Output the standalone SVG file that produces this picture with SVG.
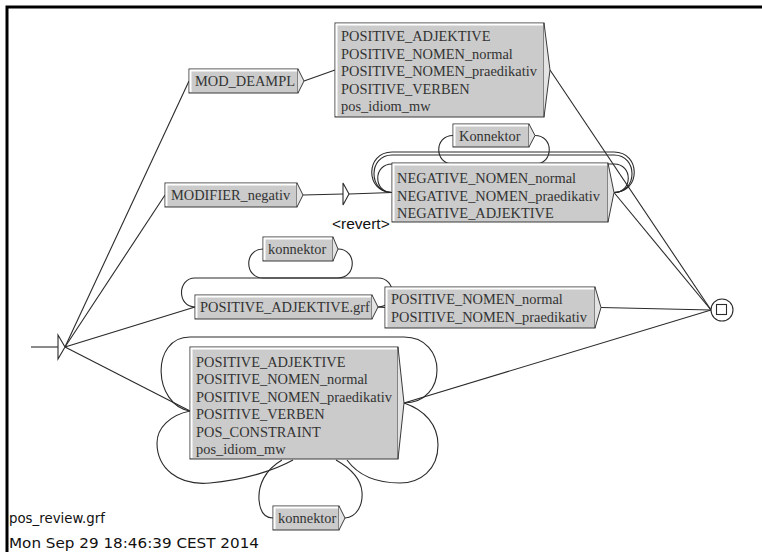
<svg xmlns="http://www.w3.org/2000/svg" width="762" height="552" viewBox="0 0 762 552">
<style>
  .bg{fill:#fff}
  .frame{fill:none;stroke:#000;stroke-width:3}
  .tr{fill:none;stroke:#2a2a2a;stroke-width:1.1}
  .box{fill:#cbcbcb;stroke:#3a3a3a;stroke-width:1}
  .hl{fill:none;stroke:#fff;stroke-width:2}
  .arr{fill:#e4e4e4;stroke:#3a3a3a;stroke-width:1}
  .lbl{font-family:"Liberation Serif","Times New Roman",serif;font-size:14.4px;fill:#333}
  .out{font-family:"Liberation Sans",Arial,sans-serif;font-size:15.5px;fill:#111}
  .info{font-family:"DejaVu Sans",sans-serif;font-size:14px;fill:#111}
  .st{fill:#fff;stroke:#2a2a2a;stroke-width:1.1}
</style>
<rect class="bg" x="0" y="0" width="762" height="552"/>
<path class="frame" d="M7,552 V7 H762"/>

<!-- transitions -->
<g id="connectors">
  <path class="tr" d="M31,347 H58"/>
  <path class="tr" d="M65,347 L189,81"/>
  <path class="tr" d="M65,347 L165,195"/>
  <path class="tr" d="M65,347 L195,307"/>
  <path class="tr" d="M65,347 L190,411"/>
  <path class="tr" d="M304,81 L335,70"/>
  <path class="tr" d="M550,70 L711,310"/>
  <path class="tr" d="M303,195 L343,194"/>
  <path class="tr" d="M349,194 L392,192.5"/>
  <path class="tr" d="M614,192.5 L711,310"/>
  <path class="tr" d="M378,307 L385,307.5"/>
  <path class="tr" d="M601,307.5 L711,310"/>
  <path class="tr" d="M404,403 L711,310"/>
  <!-- loops around the negative box -->
  <path class="tr" d="M614,192.5 C641,192.5 641,152 614,152 L392,152 C365,152 365,192.5 392,192.5"/>
  <path class="tr" d="M614,192.5 C638,192.5 638,155 614,155 L392,155 C368,155 368,192.5 392,192.5"/>
  <path class="tr" d="M614,192.5 C633,192.5 633,164 614,164 L453,164 C434,164 434,135.5 453,135.5"/>
  <path class="tr" d="M535,135.5 C554,135.5 554,164 535,164 L392,164 C373,164 373,192.5 392,192.5"/>
  <!-- loops around POSITIVE_ADJEKTIVE.grf -->
  <path class="tr" d="M378,307 C397,307 397,278 378,278 L263,278 C244,278 244,249 263,249"/>
  <path class="tr" d="M338,249 C357,249 357,278 338,278 L195,278 C177,278 177,307 195,307"/>
  <!-- loops around the six-line box -->
  <path class="tr" d="M404,403 C448,403 448,337 404,337 L190,337 C150,337 153,405 190,411"/>
  <path class="tr" d="M404,403 C425,410 438,425 438,445 C438,470 420,483 400,483 C380,483 360,478 347,460"/>
  <path class="tr" d="M293,460 C275,470 245,480 210,483 C178,486 157,468 157,443 C157,428 170,415 190,411"/>
  <path class="tr" d="M282,460 C265,470 258,485 259,500 C260,512 265,518 273,518"/>
  <path class="tr" d="M345,518 C357,517 363,505 362,492 C361,478 350,468 336,460"/>
</g>

<g id="init">
  <polygon class="st" points="58,335 65,347 58,359"/>
</g>

<g id="final">
  <circle class="st" cx="722" cy="310" r="11"/>
  <rect x="716.5" y="304.5" width="10" height="10" fill="#fff" stroke="#2a2a2a" stroke-width="1.1"/>
</g>

<g id="mod_deampl">
  <rect class="box" x="189" y="69" width="109" height="24"/>
  <path class="hl" d="M190.5,92 V70.5 H297"/>
  <polyline class="arr" points="298,69 304,81 298,93"/>
  <text class="lbl" x="195" y="86">MOD_DEAMPL</text>
</g>

<g id="positive_top">
  <rect class="box" x="335" y="23" width="209" height="94"/>
  <path class="hl" d="M336.5,116 V24.5 H543"/>
  <polyline class="arr" points="544,23 550,70 544,117"/>
  <text class="lbl" x="341"><tspan x="341" y="41">POSITIVE_ADJEKTIVE</tspan><tspan x="341" y="58.5">POSITIVE_NOMEN_normal</tspan><tspan x="341" y="76">POSITIVE_NOMEN_praedikativ</tspan><tspan x="341" y="93.5">POSITIVE_VERBEN</tspan><tspan x="341" y="111">pos_idiom_mw</tspan></text>
</g>

<g id="modifier_negativ">
  <rect class="box" x="165" y="183" width="132" height="24"/>
  <path class="hl" d="M166.5,206 V184.5 H296"/>
  <polyline class="arr" points="297,183 303,195 297,207"/>
  <text class="lbl" x="171" y="200">MODIFIER_negativ</text>
</g>

<g id="revert">
  <polygon class="st" points="343,183 349,194 343,205"/>
  <text class="out" x="332" y="229">&lt;revert&gt;</text>
</g>

<g id="konnektor_neg">
  <rect class="box" x="453" y="124" width="76" height="23"/>
  <path class="hl" d="M454.5,146 V125.5 H528"/>
  <polyline class="arr" points="529,124 535,135.5 529,147"/>
  <text class="lbl" x="459" y="140.5">Konnektor</text>
</g>

<g id="negative">
  <rect class="box" x="392" y="163" width="216" height="59"/>
  <path class="hl" d="M393.5,221 V164.5 H607"/>
  <polyline class="arr" points="608,163 614,192.5 608,222"/>
  <text class="lbl"><tspan x="397" y="183">NEGATIVE_NOMEN_normal</tspan><tspan x="397" y="200.5">NEGATIVE_NOMEN_praedikativ</tspan><tspan x="397" y="218">NEGATIVE_ADJEKTIVE</tspan></text>
</g>

<g id="konnektor_grf">
  <rect class="box" x="263" y="237" width="70" height="24"/>
  <path class="hl" d="M264.5,260 V238.5 H332"/>
  <polyline class="arr" points="333,237 338,249 333,261"/>
  <text class="lbl" x="268" y="254">konnektor</text>
</g>

<g id="positive_grf">
  <rect class="box" x="195" y="295" width="177" height="24"/>
  <path class="hl" d="M196.5,318 V296.5 H371"/>
  <polyline class="arr" points="372,295 378,307 372,319"/>
  <text class="lbl" x="200" y="312">POSITIVE_ADJEKTIVE.grf</text>
</g>

<g id="positive_nomen">
  <rect class="box" x="385" y="287" width="210" height="41"/>
  <path class="hl" d="M386.5,327 V288.5 H594"/>
  <polyline class="arr" points="595,287 601,307.5 595,328"/>
  <text class="lbl"><tspan x="391" y="304">POSITIVE_NOMEN_normal</tspan><tspan x="391" y="321.5">POSITIVE_NOMEN_praedikativ</tspan></text>
</g>

<g id="positive_all">
  <rect class="box" x="190" y="347" width="208" height="112"/>
  <path class="hl" d="M191.5,458 V348.5 H397"/>
  <polyline class="arr" points="398,347 404,403 398,459"/>
  <text class="lbl"><tspan x="196" y="366.5">POSITIVE_ADJEKTIVE</tspan><tspan x="196" y="384">POSITIVE_NOMEN_normal</tspan><tspan x="196" y="401.5">POSITIVE_NOMEN_praedikativ</tspan><tspan x="196" y="419">POSITIVE_VERBEN</tspan><tspan x="196" y="436.5">POS_CONSTRAINT</tspan><tspan x="196" y="454">pos_idiom_mw</tspan></text>
</g>

<g id="konnektor_bottom">
  <rect class="box" x="273" y="506" width="66" height="24"/>
  <path class="hl" d="M274.5,529 V507.5 H338"/>
  <polyline class="arr" points="339,506 345,518 339,530"/>
  <text class="lbl" x="278" y="523">konnektor</text>
</g>

<text class="info" x="9" y="523" textLength="96" lengthAdjust="spacingAndGlyphs">pos_review.grf</text>
<text class="info" x="9" y="548" textLength="250" lengthAdjust="spacingAndGlyphs">Mon Sep 29 18:46:39 CEST 2014</text>
</svg>
